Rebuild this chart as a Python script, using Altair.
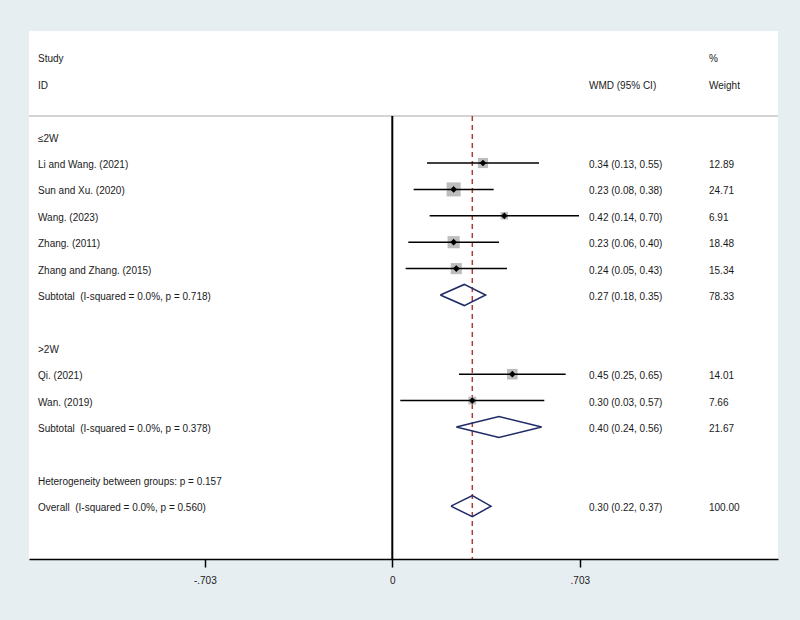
import altair as alt
import pandas as pd

# ---------------- data ----------------
study_labels = ["Li and Wang. (2021)", "Sun and Xu. (2020)", "Wang. (2023)", "Zhang. (2011)",
                "Zhang and Zhang. (2015)", "Qi. (2021)", "Wan. (2019)"]
study_est = [0.34, 0.23, 0.42, 0.23, 0.24, 0.45, 0.30]
study_lo = [0.13, 0.08, 0.14, 0.06, 0.05, 0.25, 0.03]
study_hi = [0.55, 0.38, 0.70, 0.40, 0.43, 0.65, 0.57]
study_weight = [12.89, 24.71, 6.91, 18.48, 15.34, 14.01, 7.66]
study_rows = [1, 2, 3, 4, 5, 9, 10]

sum_labels = ["Subtotal\u00a0 (I-squared = 0.0%, p = 0.718)",
              "Subtotal\u00a0 (I-squared = 0.0%, p = 0.378)",
              "Overall\u00a0 (I-squared = 0.0%, p = 0.560)"]
sum_est = [0.27, 0.40, 0.30]
sum_lo = [0.18, 0.24, 0.22]
sum_hi = [0.35, 0.56, 0.37]
sum_weight = [78.33, 21.67, 100.00]
sum_rows = [6, 11, 14]

group_labels = ["≤2W", ">2W"]
group_rows = [0, 8]

note_labels = ["Heterogeneity between groups: p = 0.157"]
note_rows = [13]

tick_values = [-0.703, 0, 0.703]

# ---------------- tables ----------------
studies = pd.DataFrame({"label": study_labels, "est": study_est, "lo": study_lo,
                        "hi": study_hi, "weight": study_weight, "row": study_rows})
studies["ci"] = [f"{e:.2f} ({l:.2f}, {h:.2f})" for e, l, h in zip(study_est, study_lo, study_hi)]
studies["w"] = [f"{w:.2f}" for w in study_weight]

summ = pd.DataFrame({"label": sum_labels, "est": sum_est, "lo": sum_lo,
                     "hi": sum_hi, "weight": sum_weight, "row": sum_rows})
summ["ci"] = [f"{e:.2f} ({l:.2f}, {h:.2f})" for e, l, h in zip(sum_est, sum_lo, sum_hi)]
summ["w"] = [f"{w:.2f}" for w in sum_weight]

half_h = 0.4
verts = []
for i, (e, l, h, r) in enumerate(zip(sum_est, sum_lo, sum_hi, sum_rows)):
    for k, (xv, yv) in enumerate([(l, r), (e, r - half_h), (h, r), (e, r + half_h), (l, r)]):
        verts.append({"id": i, "k": k, "x": xv, "y": yv})
diamonds = pd.DataFrame(verts)

left_text = pd.DataFrame({
    "label": study_labels + sum_labels + group_labels + note_labels,
    "row": study_rows + sum_rows + group_rows + note_rows,
})
right_text = pd.concat([studies[["ci", "w", "row"]], summ[["ci", "w", "row"]]])

header = pd.DataFrame({"t1": ["Study", "ID"], "t2": ["", "WMD (95% CI)"],
                       "t3": ["%", "Weight"], "row": [-3, -2]})

# ---------------- scales ----------------
W, H = 749, 528
FONT = "Liberation Sans"
TXT = "#1a1a1a"
xs = alt.Scale(domain=[-1.3622, 1.4462], nice=False, zero=False)
ys = alt.Scale(domain=[-4, 16], reverse=True, nice=False, zero=False)
xaxis = alt.Axis(values=tick_values, grid=False, domainColor="black", domainWidth=1.5,
                 tickColor="black", tickWidth=1.5, tickSize=8, labelPadding=8,
                 labelFont=FONT, labelFontSize=10, labelColor=TXT, title=None,
                 labelExpr="replace(toString(datum.value), '0.', '.')")
line_row = -0.78


def X(field):
    return alt.X(field, scale=xs, axis=xaxis, title=None)


def Y(field):
    return alt.Y(field, scale=ys, axis=None)


header_line = alt.Chart(pd.DataFrame({"r": [line_row]})).mark_rule(
    color="#C6C6C6", strokeWidth=1.5).encode(
    x=alt.value(0), x2=alt.value(W), y=Y("r:Q"))

zero_line = alt.Chart(pd.DataFrame({"v": [0], "r": [line_row]})).mark_rule(
    color="black", strokeWidth=2).encode(
    x=X("v:Q"), y=Y("r:Q"), y2=alt.value(H))

overall_line = alt.Chart(summ.tail(1).assign(r=line_row)).mark_rule(
    color="#B03A3A", strokeWidth=1.5, strokeDash=[5, 4]).encode(
    x=X("est:Q"), y=Y("r:Q"), y2=alt.value(H))

squares = alt.Chart(studies).mark_square(color="#BDBDBD", opacity=1).encode(
    x=X("est:Q"), y=Y("row:Q"),
    size=alt.Size("weight:Q", scale=alt.Scale(domain=[0, 25], range=[0, 200]), legend=None))

ci = alt.Chart(studies).mark_rule(color="black", strokeWidth=1.5).encode(
    x=X("lo:Q"), x2="hi:Q", y=Y("row:Q"))

points = alt.Chart(studies).mark_point(shape="diamond", filled=True, color="black",
                                       size=45, opacity=1).encode(
    x=X("est:Q"), y=Y("row:Q"))

dia = alt.Chart(diamonds).mark_line(color="#1F2A66", strokeWidth=1.5).encode(
    x=X("x:Q"), y=Y("y:Q"), detail="id:N", order="k:Q")

tprops = dict(font=FONT, fontSize=10, color=TXT, align="left", baseline="middle", dy=2)

ltxt = alt.Chart(left_text).mark_text(**tprops).encode(
    x=alt.value(9), y=Y("row:Q"), text="label:N")
rtxt1 = alt.Chart(right_text).mark_text(**tprops).encode(
    x=alt.value(560), y=Y("row:Q"), text="ci:N")
rtxt2 = alt.Chart(right_text).mark_text(**tprops).encode(
    x=alt.value(680), y=Y("row:Q"), text="w:N")
h1 = alt.Chart(header).mark_text(**tprops).encode(
    x=alt.value(9), y=Y("row:Q"), text="t1:N")
h2 = alt.Chart(header).mark_text(**tprops).encode(
    x=alt.value(560), y=Y("row:Q"), text="t2:N")
h3 = alt.Chart(header).mark_text(**tprops).encode(
    x=alt.value(680), y=Y("row:Q"), text="t3:N")

chart = alt.layer(
    header_line, zero_line, overall_line, squares, ci, points, dia,
    ltxt, rtxt1, rtxt2, h1, h2, h3
).properties(
    width=W, height=H,
    autosize=alt.AutoSizeParams(type="none"),
    padding={"left": 29, "top": 31, "right": 22, "bottom": 61},
    background="#E7EEF1",
).configure_view(fill="white", stroke=None)

chart.save("out.html", embed_options={"renderer": "svg", "actions": False})
